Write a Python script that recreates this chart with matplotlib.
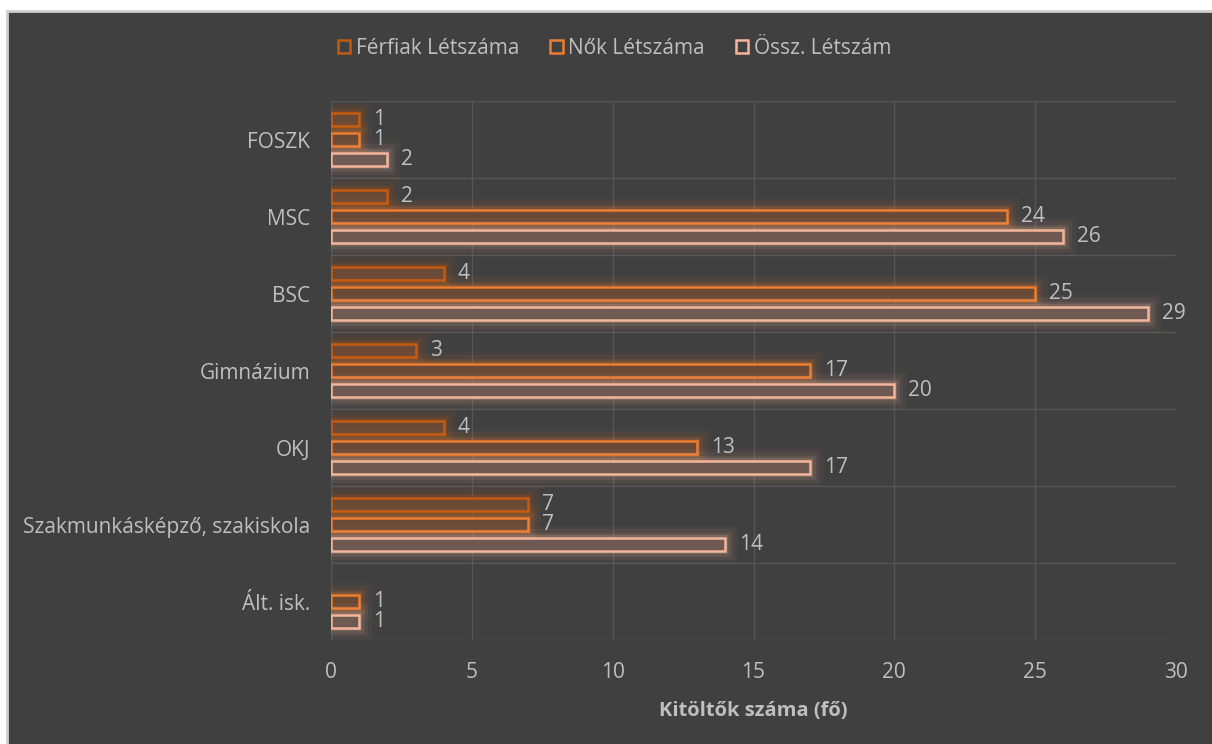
import matplotlib
matplotlib.use("Agg")
import matplotlib.pyplot as plt
import matplotlib.patheffects as pe
from matplotlib.patches import Rectangle
import numpy as np

plt.rcParams['font.family'] = ['Open Sans', 'DejaVu Sans']

categories = ["FOSZK", "MSC", "BSC", "Gimnázium", "OKJ",
              "Szakmunkásképző, szakiskola", "Ált. isk."]
series_names = ["Férfiak Létszáma", "Nők Létszáma", "Össz. Létszám"]
ferfiak = [1, 2, 4, 3, 4, 7, 0]
nok = [1, 24, 25, 17, 13, 7, 1]
ossz = [2, 26, 29, 20, 17, 14, 1]
x_ticks = [0, 5, 10, 15, 20, 25, 30]
x_label = "Kitöltők száma (fő)"

edge_colors = ["#C55A11", "#ED7D31", "#F4B69A"]
face_colors = ["#6A4A36", "#6A4A36", "#6E5A53"]
text_color = "#BFBFBF"
bg = "#404040"
grid_color = "#555555"
fs = 15

W, H = 1212, 744
fig = plt.figure(figsize=(W / 100, H / 100), dpi=100, facecolor="white")
fig.patches.append(Rectangle((7 / W, -0.01), 1.02, 1 - 11 / H + 0.01,
                             transform=fig.transFigure, facecolor=bg,
                             edgecolor="#CFCFCF", linewidth=2, zorder=-10))

ax = fig.add_axes([331 / W, 1 - 640 / H, (1176 - 331) / W, (640 - 101) / H])
ax.set_zorder(2)
ax.patch.set_alpha(0)

n = len(categories)
y = np.arange(n)
offsets = [-0.26, 0.0, 0.26]
height = 0.18
data = [ferfiak, nok, ossz]

for k, (vals, name) in enumerate(zip(data, series_names)):
    bars = ax.barh(y + offsets[k], vals, height=height, facecolor=face_colors[k],
                   edgecolor=edge_colors[k], linewidth=1.8, label=name, zorder=3)
    for b, v in zip(bars, vals):
        if v == 0:
            b.set_visible(False)
            continue
        b.set_path_effects([
            pe.Stroke(linewidth=18, foreground=edge_colors[k], alpha=0.04),
            pe.Stroke(linewidth=13, foreground=edge_colors[k], alpha=0.06),
            pe.Stroke(linewidth=8, foreground=edge_colors[k], alpha=0.10),
            pe.Stroke(linewidth=4.5, foreground=edge_colors[k], alpha=0.18),
            pe.Normal()])
        ax.text(v + 0.5, b.get_y() + b.get_height() / 2, str(v),
                va="center", ha="left", color=text_color, fontsize=fs, zorder=4)

ax.set_ylim(n - 0.5, -0.5)
ax.set_xlim(0, 30)
ax.set_xticks(x_ticks)
ax.set_yticks(y)
ax.set_yticklabels(categories)
ax.set_yticks(np.arange(-0.5, n, 1.0), minor=True)
ax.grid(axis="x", which="major", color=grid_color, linewidth=1.0, zorder=1)
ax.grid(axis="y", which="minor", color=grid_color, linewidth=1.0, zorder=1)
ax.grid(axis="y", which="major", visible=False)
ax.tick_params(axis="both", which="both", length=0, colors=text_color, labelsize=fs)
ax.tick_params(axis="y", pad=15)
ax.tick_params(axis="x", pad=16)
for s in ax.spines.values():
    s.set_visible(False)
ax.set_xlabel(x_label, color=text_color, fontsize=fs - 0.5, fontweight="bold", labelpad=13)

handles = [Rectangle((0, 0), 1, 1, facecolor="none", edgecolor=c, linewidth=1.8)
           for c in edge_colors]
leg = fig.legend(handles, series_names, loc="center", bbox_to_anchor=(0.507, 1 - 48 / H),
                 ncol=3, frameon=False, fontsize=fs, handlelength=0.6, handleheight=0.6,
                 handletextpad=0.25, columnspacing=1.5)
for t in leg.get_texts():
    t.set_color(text_color)

fig.savefig("out.png", dpi=100, facecolor=fig.get_facecolor())
